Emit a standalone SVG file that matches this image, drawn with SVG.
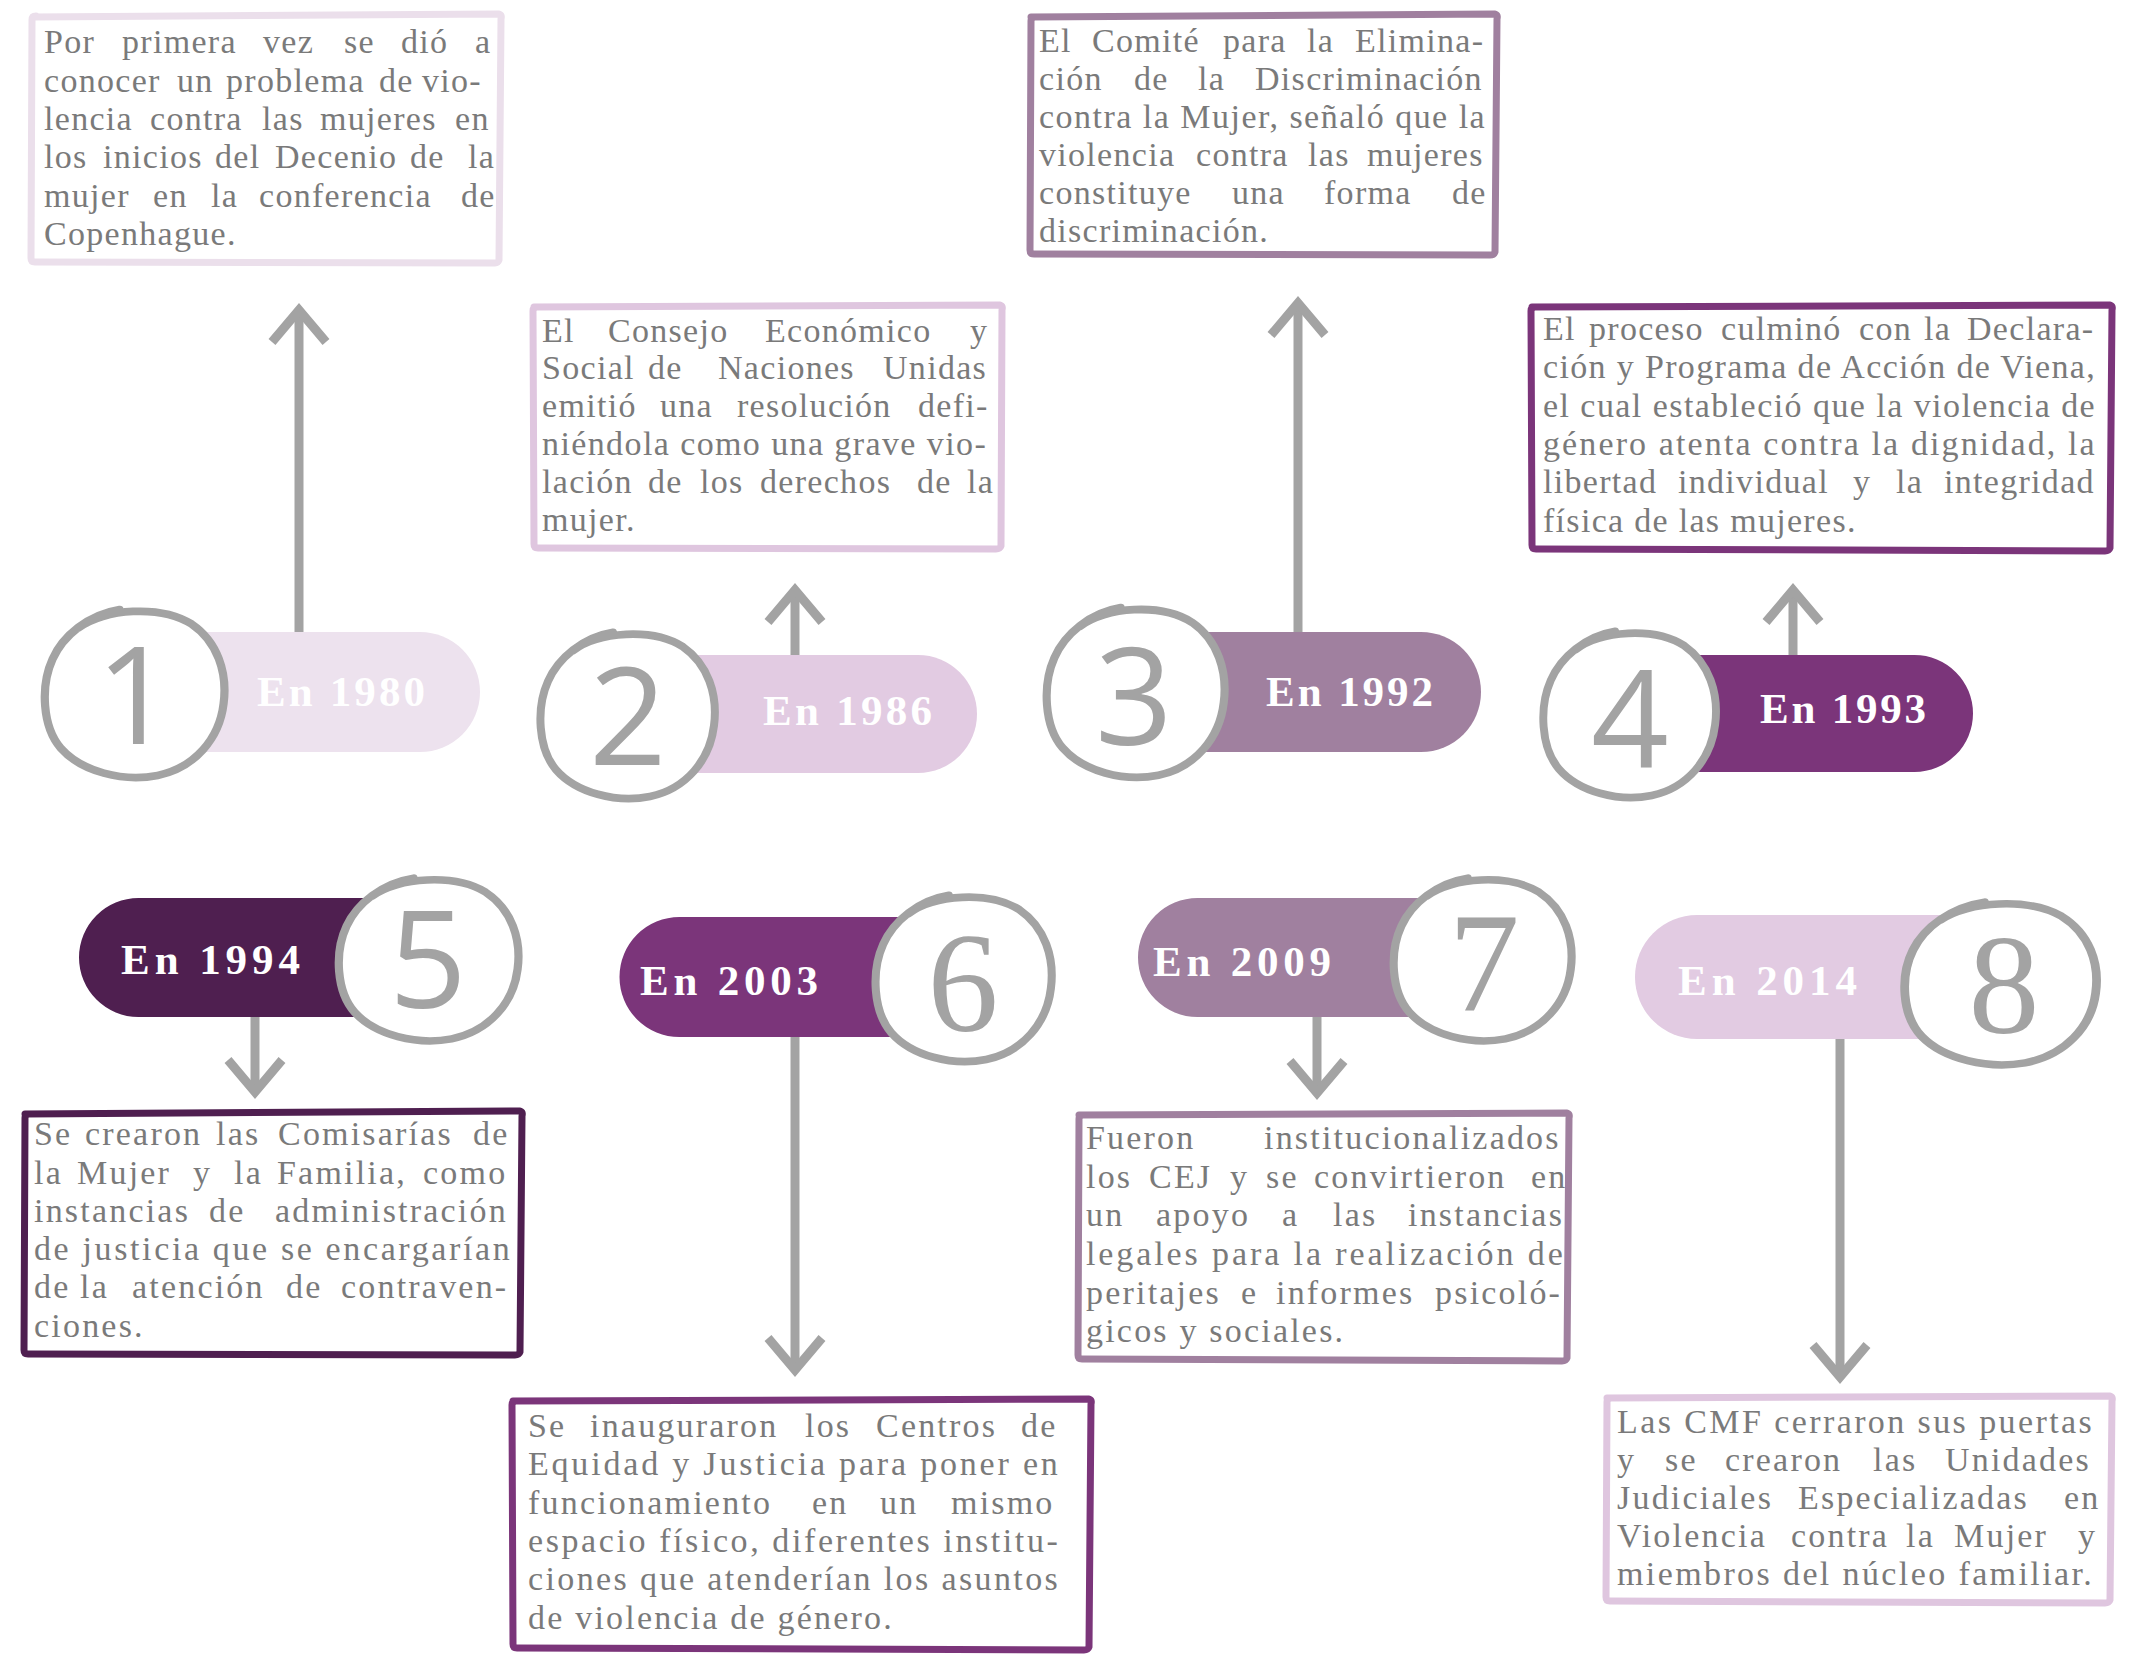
<svg xmlns="http://www.w3.org/2000/svg" xmlns:xlink="http://www.w3.org/1999/xlink" width="2136" height="1659" viewBox="0 0 2136 1659">
<style>
.t{font-family:"Liberation Serif","DejaVu Serif","Noto Serif",serif;font-size:34px;fill:#7a7a7a}
.ta{letter-spacing:1.3px}
.tb{letter-spacing:2.2px}
.yr{font-family:"Liberation Serif","DejaVu Serif","Noto Serif",serif;font-weight:bold;font-size:43px;fill:#ffffff}
.dg{font-family:"Open Sans",sans-serif;font-size:136px;fill:#a3a3a3;text-anchor:middle}
.dgs{font-family:"Liberation Serif","DejaVu Serif","Noto Serif",serif;font-size:142px;fill:#a3a3a3;text-anchor:middle}
.ring{fill:#ffffff;stroke:#a3a3a3;stroke-width:8;stroke-linejoin:round;stroke-linecap:round}
.box{fill:#ffffff;stroke-width:7;stroke-linejoin:round;stroke-linecap:round}
.arrow{stroke:#a3a3a3;stroke-width:9;fill:none;marker-end:url(#chev)}
.c1{fill:#ede2ee}.s1{stroke:#ebdfeb}
.c2{fill:#e2cbe2}.s2{stroke:#dfc6df}
.c3{fill:#a0809f}.s3{stroke:#a0809f}
.c4{fill:#7b357a}.s4{stroke:#7b357a}
.c5{fill:#4f1f50}.s5{stroke:#4f1f50}
</style>
<defs>
<marker id="chev" markerUnits="userSpaceOnUse" orient="auto" markerWidth="80" markerHeight="80" viewBox="-40 -40 80 80" refX="0" refY="0" overflow="visible">
<path d="M-32,-27 L0,0 L-32,27" fill="none" stroke="#a3a3a3" stroke-width="9" stroke-linejoin="miter"/>
</marker>
<path id="ring" class="ring" d="M-55,-66 C-30,-86 25,-90 55,-70 C80,-52 90,-20 86,12 C82,48 58,78 22,86 C-12,93 -52,82 -72,58 C-90,36 -92,-6 -80,-34 C-70,-58 -45,-80 -15,-85"/>
</defs>
<rect width="2136" height="1659" fill="#ffffff"/>

<g id="connectors">
<line class="arrow" x1="299" y1="632" x2="299" y2="310"/>
<line class="arrow" x1="795" y1="655" x2="795" y2="590"/>
<line class="arrow" x1="1298" y1="632" x2="1298" y2="303"/>
<line class="arrow" x1="1793" y1="655" x2="1793" y2="590"/>
<line class="arrow" x1="255" y1="1017" x2="255" y2="1092"/>
<line class="arrow" x1="795" y1="1037" x2="795" y2="1370"/>
<line class="arrow" x1="1317" y1="1017" x2="1317" y2="1093"/>
<line class="arrow" x1="1840" y1="1039" x2="1840" y2="1377"/>
</g>

<g id="node1">
<path class="c1" d="M135,632 H420 A60,60 0 0 1 420,752 H135 Z"/>
<use href="#ring" transform="translate(135,692) scale(1.03,0.97)"/>
<text class="dg" x="135" y="744">1</text>
<text class="yr" x="257" y="706" textLength="168" lengthAdjust="spacing">En 1980</text>
<path class="box s1" d="M33,17 L499,14 Q502,15 501,19 L499,260 Q498,263 495,263 L35,262 Q31,262 31,258 L32,20 Q32,16 36,16"/>
<text class="t ta" y="53"><tspan x="44">Por</tspan> <tspan x="122">primera</tspan> <tspan x="263">vez</tspan> <tspan x="344">se</tspan> <tspan x="401">dió</tspan> <tspan x="475">a</tspan></text>
<text class="t ta" y="92"><tspan x="44">conocer</tspan> <tspan x="177">un</tspan> <tspan x="226">problema</tspan> <tspan x="379">de</tspan> <tspan x="422">vio-</tspan></text>
<text class="t ta" y="130"><tspan x="44">lencia</tspan> <tspan x="150">contra</tspan> <tspan x="262">las</tspan> <tspan x="320">mujeres</tspan> <tspan x="455">en</tspan></text>
<text class="t ta" y="168"><tspan x="44">los</tspan> <tspan x="103">inicios</tspan> <tspan x="215">del</tspan> <tspan x="275">Decenio</tspan> <tspan x="410">de</tspan> <tspan x="468">la</tspan></text>
<text class="t ta" y="207"><tspan x="44">mujer</tspan> <tspan x="153">en</tspan> <tspan x="211">la</tspan> <tspan x="259">conferencia</tspan> <tspan x="461">de</tspan></text>
<text class="t ta" x="44" y="245">Copenhague.</text>
</g>

<g id="node2">
<path class="c2" d="M628,655 H918 A59,59 0 0 1 918,773 H628 Z"/>
<use href="#ring" transform="translate(628,714) scale(1.0,0.96)"/>
<text class="dg" x="628" y="765">2</text>
<text class="yr" x="763" y="725" textLength="169" lengthAdjust="spacing">En 1986</text>
<path class="box s2" d="M534,307 L1000,305 Q1003,306 1002,310 L1001,546 Q1000,549 996,549 L538,548 Q534,548 534,544 L533,311 Q533,307 537,307"/>
<text class="t ta" y="342"><tspan x="542">El</tspan> <tspan x="608">Consejo</tspan> <tspan x="765">Económico</tspan> <tspan x="970">y</tspan></text>
<text class="t ta" y="379"><tspan x="542">Social</tspan> <tspan x="648">de</tspan> <tspan x="718">Naciones</tspan> <tspan x="883">Unidas</tspan></text>
<text class="t ta" y="417"><tspan x="542">emitió</tspan> <tspan x="660">una</tspan> <tspan x="737">resolución</tspan> <tspan x="918">defi-</tspan></text>
<text class="t ta" x="542" y="455" textLength="445" lengthAdjust="spacing">niéndola como una grave vio-</text>
<text class="t ta" y="493"><tspan x="542">lación</tspan> <tspan x="648">de</tspan> <tspan x="700">los</tspan> <tspan x="760">derechos</tspan> <tspan x="917">de</tspan> <tspan x="967">la</tspan></text>
<text class="t ta" x="542" y="531">mujer.</text>
</g>

<g id="node3">
<path class="c3" d="M1136,632 H1421 A60,60 0 0 1 1421,752 H1136 Z"/>
<use href="#ring" transform="translate(1136,691) scale(1.02,0.98)"/>
<text class="dg" x="1134" y="745">3</text>
<text class="yr" x="1266" y="706" textLength="167" lengthAdjust="spacing">En 1992</text>
<path class="box s3" d="M1031,17 L1495,14 Q1498,15 1497,19 L1495,252 Q1494,255 1490,255 L1034,254 Q1030,254 1030,250 L1031,21 Q1031,17 1035,17"/>
<text class="t ta" y="52"><tspan x="1039">El</tspan> <tspan x="1092">Comité</tspan> <tspan x="1223">para</tspan> <tspan x="1307">la</tspan> <tspan x="1355">Elimina-</tspan></text>
<text class="t ta" y="90"><tspan x="1039">ción</tspan> <tspan x="1134">de</tspan> <tspan x="1198">la</tspan> <tspan x="1255">Discriminación</tspan></text>
<text class="t ta" x="1039" y="128" textLength="447" lengthAdjust="spacing">contra la Mujer, señaló que la</text>
<text class="t ta" y="166"><tspan x="1039">violencia</tspan> <tspan x="1196">contra</tspan> <tspan x="1308">las</tspan> <tspan x="1367">mujeres</tspan></text>
<text class="t ta" y="204"><tspan x="1039">constituye</tspan> <tspan x="1232">una</tspan> <tspan x="1324">forma</tspan> <tspan x="1452">de</tspan></text>
<text class="t ta" x="1039" y="242">discriminación.</text>
</g>

<g id="node4">
<path class="c4" d="M1630,655 H1914.5 A58.5,58.5 0 0 1 1914.5,772 H1630 Z"/>
<use href="#ring" transform="translate(1630,713) scale(0.99,0.96)"/>
<text class="dg" x="1630" y="767">4</text>
<text class="yr" x="1760" y="723" textLength="166" lengthAdjust="spacing">En 1993</text>
<path class="box s4" d="M1532,307 L2110,305 Q2113,306 2112,310 L2110,548 Q2109,551 2105,551 L1536,549 Q1532,549 1532,545 L1531,311 Q1531,307 1535,307"/>
<text class="t ta" y="340"><tspan x="1543">El</tspan> <tspan x="1589">proceso</tspan> <tspan x="1721">culminó</tspan> <tspan x="1859">con</tspan> <tspan x="1924">la</tspan> <tspan x="1967">Declara-</tspan></text>
<text class="t ta" x="1543" y="378" textLength="553" lengthAdjust="spacing">ción y Programa de Acción de Viena,</text>
<text class="t ta" x="1543" y="417" textLength="553" lengthAdjust="spacing">el cual estableció que la violencia de</text>
<text class="t ta" x="1543" y="455" textLength="553" lengthAdjust="spacing">género atenta contra la dignidad, la</text>
<text class="t ta" y="493"><tspan x="1543">libertad</tspan> <tspan x="1678">individual</tspan> <tspan x="1853">y</tspan> <tspan x="1896">la</tspan> <tspan x="1944">integridad</tspan></text>
<text class="t ta" x="1543" y="532">física de las mujeres.</text>
</g>

<g id="node5">
<path class="c5" d="M430,898 H138.5 A59.5,59.5 0 0 0 138.5,1017 H430 Z"/>
<use href="#ring" transform="translate(429,958) scale(1.03,0.94)"/>
<text class="dg" x="428" y="1008">5</text>
<text class="yr" x="121" y="974" textLength="179" lengthAdjust="spacing">En 1994</text>
<path class="box s5" d="M25,1114 L520,1111 Q523,1112 522,1116 L520,1352 Q519,1355 515,1355 L28,1354 Q24,1354 24,1350 L25,1118 Q25,1114 29,1114"/>
<text class="t tb" y="1145"><tspan x="34">Se</tspan> <tspan x="85">crearon</tspan> <tspan x="216">las</tspan> <tspan x="278">Comisarías</tspan> <tspan x="473">de</tspan></text>
<text class="t tb" y="1184"><tspan x="34">la</tspan> <tspan x="77">Mujer</tspan> <tspan x="193">y</tspan> <tspan x="234">la</tspan> <tspan x="277">Familia,</tspan> <tspan x="423">como</tspan></text>
<text class="t tb" y="1222"><tspan x="34">instancias</tspan> <tspan x="209">de</tspan> <tspan x="275">administración</tspan></text>
<text class="t tb" x="34" y="1260" textLength="478" lengthAdjust="spacing">de justicia que se encargarían</text>
<text class="t tb" y="1298"><tspan x="34">de</tspan> <tspan x="80">la</tspan> <tspan x="132">atención</tspan> <tspan x="286">de</tspan> <tspan x="341">contraven-</tspan></text>
<text class="t tb" x="34" y="1337">ciones.</text>
</g>

<g id="node6">
<path class="c4" d="M964,917 H679.5 A60,60 0 0 0 679.5,1037 H964 Z"/>
<use href="#ring" transform="translate(964,977) scale(1.01,0.96)"/>
<text class="dgs" x="963" y="1031">6</text>
<text class="yr" x="640" y="995" textLength="178" lengthAdjust="spacing">En 2003</text>
<path class="box s4" d="M513,1401 L1089,1399 Q1092,1400 1091,1404 L1089,1647 Q1088,1650 1084,1650 L517,1648 Q513,1648 513,1644 L512,1405 Q512,1401 516,1401"/>
<text class="t tb" y="1437"><tspan x="528">Se</tspan> <tspan x="590">inauguraron</tspan> <tspan x="805">los</tspan> <tspan x="876">Centros</tspan> <tspan x="1021">de</tspan></text>
<text class="t tb" x="528" y="1475" textLength="532" lengthAdjust="spacing">Equidad y Justicia para poner en</text>
<text class="t tb" y="1514"><tspan x="528">funcionamiento</tspan> <tspan x="812">en</tspan> <tspan x="880">un</tspan> <tspan x="951">mismo</tspan></text>
<text class="t tb" x="528" y="1552" textLength="532" lengthAdjust="spacing">espacio físico, diferentes institu-</text>
<text class="t tb" x="528" y="1590" textLength="532" lengthAdjust="spacing">ciones que atenderían los asuntos</text>
<text class="t tb" x="528" y="1629">de violencia de género.</text>
</g>

<g id="node7">
<path class="c3" d="M1483,898 H1197.5 A59.5,59.5 0 0 0 1197.5,1017 H1483 Z"/>
<use href="#ring" transform="translate(1483,958) scale(1.02,0.94)"/>
<text class="dgs" x="1484" y="1010">7</text>
<text class="yr" x="1153" y="976" textLength="178" lengthAdjust="spacing">En 2009</text>
<path class="box s3" d="M1079,1115 L1567,1113 Q1570,1114 1569,1118 L1567,1358 Q1566,1361 1562,1361 L1082,1359 Q1078,1359 1078,1355 L1079,1119 Q1079,1115 1083,1115"/>
<text class="t tb" y="1149"><tspan x="1086">Fueron</tspan> <tspan x="1264">institucionalizados</tspan></text>
<text class="t tb" y="1188"><tspan x="1086">los</tspan> <tspan x="1149">CEJ</tspan> <tspan x="1230">y</tspan> <tspan x="1266">se</tspan> <tspan x="1314">convirtieron</tspan> <tspan x="1531">en</tspan></text>
<text class="t tb" y="1226"><tspan x="1086">un</tspan> <tspan x="1156">apoyo</tspan> <tspan x="1282">a</tspan> <tspan x="1333">las</tspan> <tspan x="1408">instancias</tspan></text>
<text class="t tb" x="1086" y="1265" textLength="479" lengthAdjust="spacing">legales para la realización de</text>
<text class="t tb" y="1304"><tspan x="1086">peritajes</tspan> <tspan x="1241">e</tspan> <tspan x="1276">informes</tspan> <tspan x="1435">psicoló-</tspan></text>
<text class="t tb" x="1086" y="1342">gicos y sociales.</text>
</g>

<g id="node8">
<path class="c2" d="M2000,915 H1697 A62,62 0 0 0 1697,1039 H2000 Z"/>
<use href="#ring" transform="translate(2001,982) scale(1.1,0.94)"/>
<text class="dgs" x="2004" y="1033">8</text>
<text class="yr" x="1678" y="995" textLength="179" lengthAdjust="spacing">En 2014</text>
<path class="box s2" d="M1607,1398 L2110,1396 Q2113,1397 2112,1401 L2110,1600 Q2109,1603 2105,1603 L1610,1601 Q1606,1601 1606,1597 L1607,1402 Q1607,1398 1611,1398"/>
<text class="t tb" x="1617" y="1433" textLength="477" lengthAdjust="spacing">Las CMF cerraron sus puertas</text>
<text class="t tb" y="1471"><tspan x="1617">y</tspan> <tspan x="1665">se</tspan> <tspan x="1725">crearon</tspan> <tspan x="1873">las</tspan> <tspan x="1945">Unidades</tspan></text>
<text class="t tb" y="1509"><tspan x="1617">Judiciales</tspan> <tspan x="1798">Especializadas</tspan> <tspan x="2064">en</tspan></text>
<text class="t tb" y="1547"><tspan x="1617">Violencia</tspan> <tspan x="1791">contra</tspan> <tspan x="1906">la</tspan> <tspan x="1954">Mujer</tspan> <tspan x="2078">y</tspan></text>
<text class="t tb" x="1617" y="1585" textLength="477" lengthAdjust="spacing">miembros del núcleo familiar.</text>
</g>
</svg>
